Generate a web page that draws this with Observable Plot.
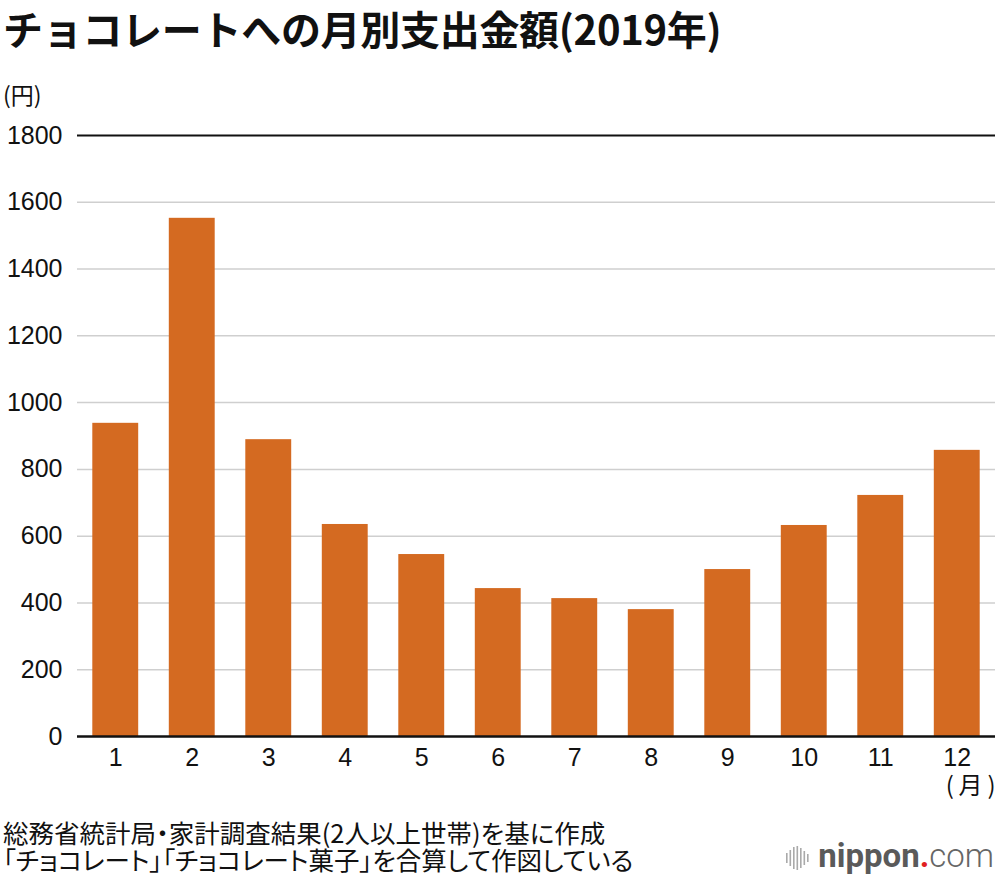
<!DOCTYPE html>
<html><head><meta charset="utf-8">
<script src="https://cdn.jsdelivr.net/npm/d3@7"></script>
<script src="https://cdn.jsdelivr.net/npm/@observablehq/plot@0.6"></script>
<style>
body{margin:0;background:#fff;font-family:"Liberation Sans","Noto Sans CJK JP",sans-serif;width:1000px;height:880px;position:relative;overflow:hidden}
#title{position:absolute;left:3px;top:0px;font-family:"Noto Sans CJK JP",sans-serif;font-weight:700;font-size:40px;line-height:56px;color:#111;white-space:nowrap;letter-spacing:-0.3px}
#unit{position:absolute;left:3px;top:78px;font-family:"Noto Sans CJK JP",sans-serif;font-size:23px;line-height:32px;color:#111}
#chart{position:absolute;left:0;top:115px}
#foot{position:absolute;left:3px;top:818px;font-family:"Noto Sans CJK JP",sans-serif;font-size:25.5px;line-height:27px;color:#111;font-feature-settings:"palt";white-space:nowrap}
#logo{position:absolute;right:6px;top:838px;font-family:"Roboto","Liberation Sans",sans-serif;font-size:33px;color:#555;line-height:36px}
#logo b{font-weight:700;color:#5a5a5a}
#logo .dot{color:#e02020;font-weight:700}
#logo .com{font-weight:300;color:#666}
#logo .bars{display:inline-block;vertical-align:middle;margin-right:8px}
</style></head>
<body>
<div id="title">チョコレートへの月別支出金額(2019年)</div>
<div id="unit">(円)</div>
<div id="chart"></div>
<div id="foot">総務省統計局・家計調査結果(2人以上世帯)を基に作成<br>「チョコレート」「チョコレート菓子」を合算して作図している</div>
<div id="logo"><svg class="bars" width="24" height="26"><g fill="#aaa"><rect x="0" y="8" width="1.6" height="10"/><rect x="3.5" y="5" width="1.6" height="16"/><rect x="7" y="2" width="1.6" height="22"/><rect x="10.5" y="1" width="1.6" height="24"/><rect x="14" y="3" width="1.6" height="20"/><rect x="17.5" y="6" width="1.6" height="14"/><rect x="21" y="9" width="1.6" height="8"/></g></svg><b>nippon</b><span class="dot">.</span><span class="com">com</span></div>
<script>
const months = ["1","2","3","4","5","6","7","8","9","10","11","12"];
const values = [938, 1552, 889, 635, 545, 443, 413, 380, 500, 632, 722, 857];
const yTicks = [0, 200, 400, 600, 800, 1000, 1200, 1400, 1600, 1800];
const gridTicks = [200, 400, 600, 800, 1000, 1200, 1400, 1600];
const data = months.map((m, i) => ({month: m, value: values[i]}));

const chart = Plot.plot({
  width: 1000,
  height: 695,
  marginTop: 20,
  marginLeft: 77,
  marginRight: 5,
  marginBottom: 74,
  style: {fontFamily: '"Liberation Sans", Arial, sans-serif', fontSize: "25px", color: "#111", background: "#fff"},
  x: {domain: months, paddingInner: 0.4, paddingOuter: 0.2, round: false, label: null},
  y: {domain: [0, 1800], label: null},
  marks: [
    Plot.ruleY(gridTicks, {stroke: "#cfcfcf", strokeWidth: 1.5}),
    Plot.barY(data, {x: "month", y: "value", fill: "#d46a21"}),
    Plot.ruleY([1800], {stroke: "#111", strokeWidth: 2}),
    Plot.ruleY([0], {stroke: "#111", strokeWidth: 2.5}),
    Plot.axisY({ticks: yTicks, tickFormat: d => String(d), tickSize: 0, tickPadding: 15, fontSize: 25, label: null}),
    Plot.axisX({tickSize: 0, tickPadding: 12, fontSize: 25, label: null}),
    Plot.text(["(\u2009月\u2009)"], {frameAnchor: "bottom-right", textAnchor: "end", dy: 57, fontSize: 24, fontFamily: '"Noto Sans CJK JP", sans-serif', fill: "#111"})
  ]
});
document.getElementById("chart").appendChild(chart);
</script>
</body></html>
